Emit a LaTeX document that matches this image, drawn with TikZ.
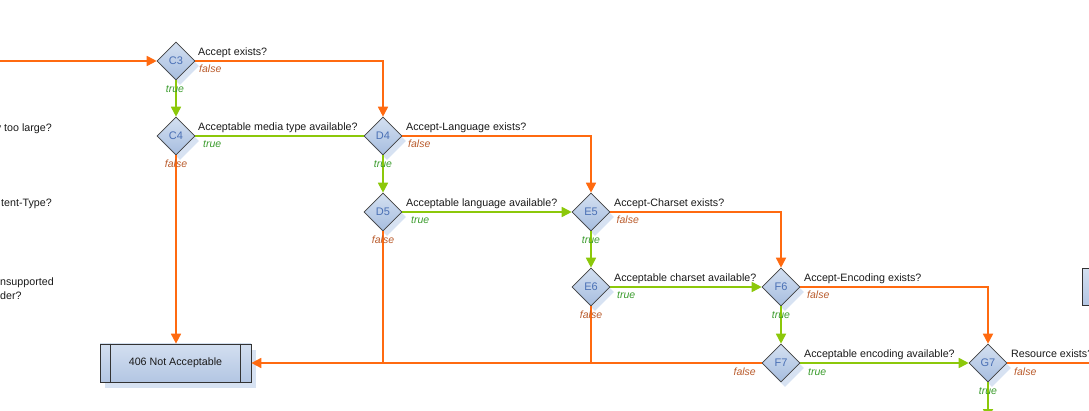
\documentclass[tikz,border=0pt]{standalone}
\usepackage{fontspec}
\setmainfont{Liberation Sans}
\usetikzlibrary{arrows.meta,shapes.geometric,shadows,calc}
\definecolor{org}{HTML}{FF6A10}
\definecolor{grn}{HTML}{8CC80A}
\definecolor{truec}{HTML}{3A9B2C}
\definecolor{falsec}{HTML}{B95B2C}
\definecolor{dtext}{HTML}{4A70B5}
\definecolor{shad}{HTML}{D7E2F2}
\definecolor{dtop}{HTML}{D4E0F1}
\definecolor{dbot}{HTML}{A6BDDF}
\definecolor{btop}{HTML}{D3DFF0}
\definecolor{bbot}{HTML}{B3C6E3}
\begin{document}
\begin{tikzpicture}[x=1pt,y=-1pt,
  font=\fontsize{10.7}{12.5}\selectfont,
  dec/.style={diamond, aspect=1, minimum width=38pt, minimum height=38pt,
    inner sep=0pt, draw=black!75, line width=0.6pt, top color=dtop, bottom color=dbot,
    text=dtext, font=\fontsize{11}{12}\selectfont,
    drop shadow={shadow xshift=4pt, shadow yshift=-5pt, fill=shad, opacity=1}},
  endbox/.style={rectangle, minimum width=151pt, minimum height=38pt, inner sep=0pt,
    draw=black!80, line width=0.7pt, top color=btop, bottom color=bbot, text=black!90,
    drop shadow={shadow xshift=5pt, shadow yshift=-6pt, fill=shad, opacity=1}},
  q/.style={anchor=base west, text=black!90, inner sep=0pt},
  qe/.style={anchor=base east, text=black!90, inner sep=0pt},
  tlab/.style={text=truec, font=\itshape\fontsize{10.5}{12}\selectfont, inner sep=0pt},
  flab/.style={text=falsec, font=\itshape\fontsize{10.5}{12}\selectfont, inner sep=0pt},
  oline/.style={draw=org, line width=1.7pt},
  gline/.style={draw=grn, line width=1.7pt},
  oarr/.style={oline, -{Triangle[length=10pt,width=10pt]}},
  garr/.style={gline, -{Triangle[length=10pt,width=10pt]}}
]
\path[use as bounding box] (0,0) rectangle (1089,411);
\clip (0,0) rectangle (1089,411);

% decision nodes
\node[dec] (c3) at (176,61) {C3};
\node[dec] (c4) at (176,136) {C4};
\node[dec] (d4) at (383,136) {D4};
\node[dec] (d5) at (383,212) {D5};
\node[dec] (e5) at (591,212) {E5};
\node[dec] (e6) at (591,287) {E6};
\node[dec] (f6) at (781,287) {F6};
\node[dec] (f7) at (781,363) {F7};
\node[dec] (g7) at (988,363) {G7};

% end boxes
\node[endbox] (n406) at (175.5,363) {406 Not Acceptable};
\draw[black!80, line width=0.7pt] ([xshift=11pt]n406.north west) -- ([xshift=11pt]n406.south west);
\draw[black!80, line width=0.7pt] ([xshift=-11pt]n406.north east) -- ([xshift=-11pt]n406.south east);
\node[rectangle, draw=black!80, line width=0.7pt, top color=btop, bottom color=bbot,
  minimum width=160pt, minimum height=37pt, inner sep=0pt, anchor=north west] (rbox) at (1082,268) {};

% free ends
\coordinate (in) at (-10,61);
\coordinate (gout) at (1100,363);
\coordinate (gdown) at (988,419);

% connectors
\draw[oarr] (in) -- (c3.west);
\draw[oarr] (c3.east) -| (d4.north);
\draw[garr] (c3.south) -- (c4.north);
\draw[gline] (c4.east) -- (d4.west);
\draw[oarr] (c4.south) -- (c4.south |- n406.north);
\draw[oarr] (d4.east) -| (e5.north);
\draw[garr] (d4.south) -- (d5.north);
\draw[garr] (d5.east) -- (e5.west);
\draw[oline] (d5.south) -- (d5.south |- f7.west);
\draw[oarr] (e5.east) -| (f6.north);
\draw[garr] (e5.south) -- (e6.north);
\draw[garr] (e6.east) -- (f6.west);
\draw[oline] (e6.south) -- (e6.south |- f7.west);
\draw[oarr] (f6.east) -| (g7.north);
\draw[garr] (f6.south) -- (f7.north);
\draw[oarr] (f7.west) -- (f7.west -| n406.east);
\draw[garr] (f7.east) -- (g7.west);
\draw[oline] (g7.east) -- (gout);
\draw[garr] (g7.south) -- (gdown);

% questions
\node[q] (t3) at ($(c3)+(22,-5)$) {Accept exists?};
\node[q] (t4) at ($(c4)+(22,-5)$) {Acceptable media type available?};
\node[q] (td4) at ($(d4)+(23,-5)$) {Accept-Language exists?};
\node[q] (td5) at ($(d5)+(23,-5)$) {Acceptable language available?};
\node[q] (te5) at ($(e5)+(23,-5)$) {Accept-Charset exists?};
\node[q] (te6) at ($(e6)+(23,-5)$) {Acceptable charset available?};
\node[q] (tf6) at ($(f6)+(23,-5)$) {Accept-Encoding exists?};
\node[q] (tf7) at ($(f7)+(23,-5)$) {Acceptable encoding available?};
\node[q] (tg7) at ($(g7)+(23,-5)$) {Resource exists?};

% clipped texts of the previous column
\node[qe] (lb1) at (52,132) {y too large?};
\node[qe] (lb2) at (52,207) {tent-Type?};
\node[q] (lb3) at (0,286) {nsupported};
\node[q] (lb4) at (0,299.5) {der?};

% true / false labels
\node[flab, anchor=base west] (c3f) at ($(c3)+(23,12)$) {false};
\node[tlab, anchor=base] (c3t) at ($(c3)+(-1,31.5)$) {true};
\node[tlab, anchor=base west] (c4t) at ($(c4)+(27,12)$) {true};
\node[flab, anchor=base] (c4f) at ($(c4)+(0,31.5)$) {false};
\node[flab, anchor=base west] (d4f) at ($(d4)+(25,12)$) {false};
\node[tlab, anchor=base] (d4t) at ($(d4)+(0,31.5)$) {true};
\node[tlab, anchor=base west] (d5t) at ($(d5)+(28,12)$) {true};
\node[flab, anchor=base] (d5f) at ($(d5)+(0,31.5)$) {false};
\node[flab, anchor=base west] (e5f) at ($(e5)+(25.5,12)$) {false};
\node[tlab, anchor=base] (e5t) at ($(e5)+(0,31.5)$) {true};
\node[tlab, anchor=base west] (e6t) at ($(e6)+(26,12)$) {true};
\node[flab, anchor=base] (e6f) at ($(e6)+(0,31.5)$) {false};
\node[flab, anchor=base west] (f6f) at ($(f6)+(26,12)$) {false};
\node[tlab, anchor=base] (f6t) at ($(f6)+(0,31.5)$) {true};
\node[tlab, anchor=base west] (f7t) at ($(f7)+(27,12)$) {true};
\node[flab, anchor=base east] (f7f) at ($(f7)+(-25,12)$) {false};
\node[flab, anchor=base west] (g7f) at ($(g7)+(26,12)$) {false};
\node[tlab, anchor=base] (g7t) at ($(g7)+(0,31.5)$) {true};
\end{tikzpicture}
\end{document}
